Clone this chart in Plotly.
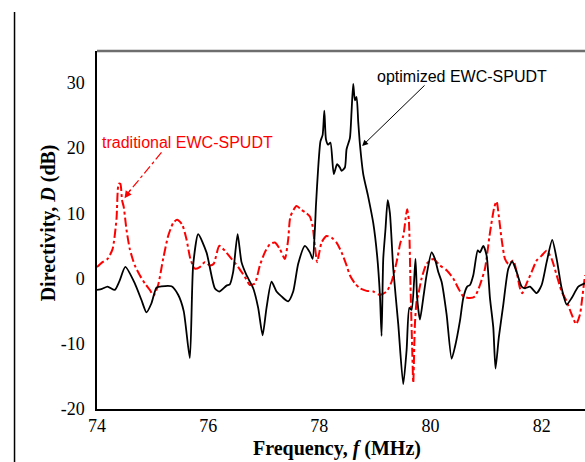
import plotly.graph_objects as go

# Optimized EWC-SPUDT (black solid)
freq_opt = [74.0, 74.09, 74.19, 74.32, 74.4, 74.51, 74.68, 74.8, 74.89, 74.98,
            75.07, 75.16, 75.34, 75.46, 75.56, 75.67, 75.73, 75.82, 75.97, 76.12,
            76.2, 76.33, 76.39, 76.45, 76.53, 76.6, 76.69, 76.81, 76.9, 76.98,
            77.05, 77.14, 77.23, 77.32, 77.44, 77.53, 77.62, 77.74, 77.83, 77.88,
            77.92, 77.94, 77.98, 78.02, 78.06, 78.09, 78.12, 78.16, 78.2, 78.26,
            78.32, 78.37, 78.4, 78.46, 78.49, 78.55, 78.58, 78.61, 78.64, 78.67,
            78.7, 78.73, 78.79, 78.88, 78.97, 79.04, 79.09, 79.12, 79.15, 79.19,
            79.23, 79.27, 79.33, 79.42, 79.51, 79.57, 79.62, 79.66, 79.73, 79.76,
            79.81, 79.87, 79.93, 80.02, 80.08, 80.14, 80.2, 80.29, 80.38, 80.44,
            80.53, 80.59, 80.66, 80.71, 80.77, 80.85, 80.89, 80.95, 81.01, 81.07,
            81.13, 81.17, 81.23, 81.31, 81.4, 81.47, 81.55, 81.64, 81.7, 81.79,
            81.91, 82.0, 82.09, 82.19, 82.27, 82.36, 82.45, 82.54, 82.66, 82.78]
dir_opt = [-1.76, -1.6, -1.25, -1.76, -0.5, 1.76, -0.75, -3.3, -5.2, -3.8,
           -1.4, -1.2, -1.2, -2.5, -5, -12.2, 2, 6.8, 4, -1.5,
           -2, -1.1, -0.9, 1, 6.8, 2.5, 0.5, -1.5, -4.5, -8.7,
           -4.5, -0.5, -2, -2.75, -3.5, -2, 2.25, 5, 4, 3,
           7.5, 11.3, 17, 21, 22, 25.7, 21.3, 20.5, 20.8, 16,
           17.5, 17, 16.5, 17, 19.8, 21.5, 25.6, 29.8, 27.3, 27.8,
           24, 20.6, 16, 12.5, 8.5, 3.5, -2.5, -8.8, 3, 7.5,
           12, 10, 1.5, -7, -16.2, -11, -4.5, -4.8, 3, -3,
           -6.3, -3, 0.5, 4, 3, 1, -0.5, -5.5, -12.3, -10.5,
           -6.5, -3, -1.25, -1, 0.5, 4.3, 4, 5, 3.5, -3,
           -7.5, -13.8, -9, -4, 1.5, 2.6, 1, -1.25, -1.5, -1.25,
           -2.25, -1, 2.5, 5.9, 3, -1.5, -4, -3, -1.25, -0.75]

# Traditional EWC-SPUDT (red dash-dot)
freq_trad = [74.0, 74.1, 74.19, 74.28, 74.35, 74.39, 74.42, 74.45, 74.48, 74.53,
             74.59, 74.68, 74.77, 74.86, 74.95, 75.02, 75.1, 75.19, 75.28, 75.37,
             75.44, 75.53, 75.61, 75.68, 75.76, 75.85, 75.94, 76.03, 76.1, 76.2,
             76.3, 76.42, 76.54, 76.66, 76.75, 76.84, 76.93, 77.02, 77.11, 77.2,
             77.29, 77.38, 77.44, 77.48, 77.59, 77.68, 77.77, 77.83, 77.88, 77.92,
             77.96, 78.0, 78.04, 78.13, 78.22, 78.31, 78.4, 78.49, 78.55, 78.64,
             78.73, 78.85, 78.97, 79.09, 79.21, 79.3, 79.39, 79.46, 79.51, 79.55,
             79.58, 79.61, 79.64, 79.67, 79.69, 79.72, 79.75, 79.78, 79.84, 79.93,
             80.05, 80.17, 80.29, 80.41, 80.5, 80.59, 80.71, 80.8, 80.89, 80.98,
             81.07, 81.15, 81.19, 81.23, 81.28, 81.34, 81.4, 81.49, 81.55, 81.61,
             81.65, 81.73, 81.82, 81.91, 82.0, 82.09, 82.18, 82.27, 82.36, 82.45,
             82.54, 82.62, 82.69, 82.73, 82.78]
dir_trad = [1.75, 2.5, 3, 4.5, 9, 14.5, 14.5, 12, 11, 7.5,
            4.5, 2, 0.5, -0.75, -1.75, -2.6, -1, 3, 6.5, 8.5,
            9, 8.3, 6, 3, 1.5, 1.75, 2.5, 2, 2.25, 5,
            4.25, 3, 1.75, 0.25, -1, -0.75, 2, 4, 5.25, 5.5,
            4.5, 3, 6, 9.5, 11.1, 10.5, 10, 9.5, 8, 5,
            2.5, 4, 5.5, 6.5, 6.25, 5.5, 4, 2, 0.5, -0.75,
            -1.5, -1.9, -2, -2.5, -2, -0.5, 2.5, 5.5, 6.5, 9,
            10.6, 9, -1, -10.5, -16, -7, -3.5, -2.5, 0, 2.25,
            3, 2, 1.25, 0, -1.5, -2.75, -3, -2.75, -1, 1.5,
            7, 11, 11.8, 9.5, 6, 3, 2.25, 2.75, 1, -1.5,
            -2.25, -0.75, 1, 2.75, 3.5, 4.25, 3, 0.5, -2, -3.5,
            -5.5, -7, -5.5, -3, 0.5]

x_ticks = [74, 76, 78, 80, 82]
y_ticks = [-20, -10, 0, 10, 20, 30]

serif = "Liberation Serif, Times New Roman, serif"
sans = "Liberation Sans, Arial, sans-serif"

fig = go.Figure()
fig.add_trace(go.Scatter(x=freq_trad, y=dir_trad, mode="lines",
                         line=dict(color="#ff0000", width=2, dash="dashdot",
                                   shape="spline", smoothing=0.6),
                         name="traditional EWC-SPUDT"))
fig.add_trace(go.Scatter(x=freq_opt, y=dir_opt, mode="lines",
                         line=dict(color="black", width=1.8,
                                   shape="spline", smoothing=0.6),
                         name="optimized EWC-SPUDT"))

fig.update_layout(
    width=585, height=462,
    margin=dict(l=97, r=0, t=51, b=53, pad=0),
    plot_bgcolor="white", paper_bgcolor="white",
    showlegend=False,
    xaxis=dict(range=[74, 82.78], tickvals=x_ticks, ticktext=[str(v) for v in x_ticks],
               showline=True, linecolor="black", linewidth=1.5, mirror=False,
               showgrid=False, zeroline=False, ticks="", ticklabelstandoff=0,
               tickfont=dict(family=serif, size=18, color="black")),
    yaxis=dict(range=[-20, 34.85], tickvals=y_ticks, ticktext=[str(v) for v in y_ticks],
               showline=True, linecolor="black", linewidth=1.5, mirror=False,
               showgrid=False, zeroline=False, ticks="", ticklabelstandoff=7,
               tickfont=dict(family=serif, size=18, color="black")),
    shapes=[
        dict(type="line", xref="paper", yref="paper", x0=0, x1=1.01, y0=1, y1=1,
             line=dict(color="#6e6e6e", width=2.5)),
        dict(type="line", xref="paper", yref="paper", x0=-0.169, x1=-0.169, y0=-0.2, y1=1.109,
             line=dict(color="black", width=1.5)),
        dict(type="line", xref="x", yref="y", x0=75.16, y0=19.3, x1=74.55, y1=13.0,
             line=dict(color="#ff0000", width=1.2, dash="dashdot")),
    ],
    annotations=[
        dict(text="<b>Frequency, <i>f</i> (MHz)</b>", xref="paper", yref="paper",
             x=0.491, y=0, xanchor="center", yanchor="middle", yshift=-39,
             showarrow=False, font=dict(family=serif, size=20, color="black")),
        dict(text="<b>Directivity, <i>D</i> (dB)</b>", xref="paper", yref="paper",
             x=0, y=0.52, xanchor="center", yanchor="middle", xshift=-48.5,
             textangle=-90, showarrow=False,
             font=dict(family=serif, size=20, color="black")),
        dict(text="optimized EWC-SPUDT", xref="x", yref="y", x=80.56, y=31.0,
             xanchor="center", yanchor="middle", showarrow=False,
             font=dict(family=sans, size=16, color="black")),
        dict(text="", xref="x", yref="y", x=78.77, y=20.3, axref="x", ayref="y",
             ax=79.92, ay=29.8, showarrow=True, arrowhead=2, arrowsize=1.2,
             arrowwidth=1, arrowcolor="black"),
        dict(text="traditional EWC-SPUDT", xref="x", yref="y", x=75.62, y=20.9,
             xanchor="center", yanchor="middle", showarrow=False,
             font=dict(family=sans, size=16, color="#ff0000")),
        dict(text="", xref="x", yref="y", x=74.495, y=12.3, axref="x", ayref="y",
             ax=74.62, ay=13.8, showarrow=True, arrowhead=2, arrowsize=1.2,
             arrowwidth=1.2, arrowcolor="#ff0000"),
    ],
)

fig.write_html("out.html")
